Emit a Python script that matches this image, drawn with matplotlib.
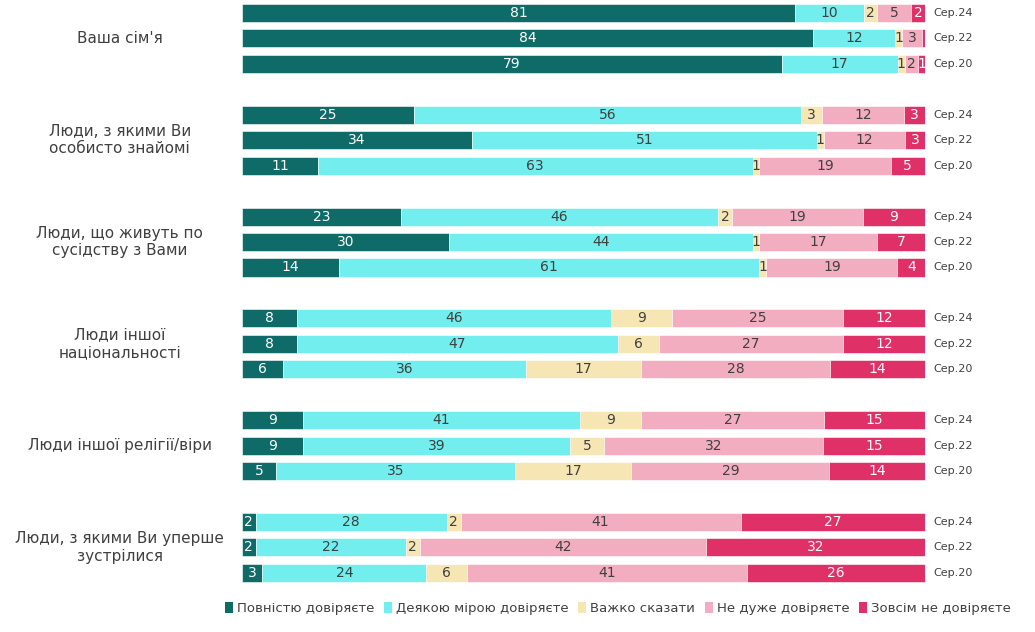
import numpy as np
import matplotlib
matplotlib.use('Agg')
import matplotlib.pyplot as plt
from matplotlib.patches import Patch

# groups and survey waves
categories = ["Ваша сім'я",
              "Люди, з якими Ви\nособисто знайомі",
              "Люди, що живуть по\nсусідству з Вами",
              "Люди іншої\nнаціональності",
              "Люди іншої релігії/віри",
              "Люди, з якими Ви уперше\nзустрілися"]
waves = ["Сер.24", "Сер.22", "Сер.20"]

series_names = ["Повністю довіряєте", "Деякою мірою довіряєте", "Важко сказати",
                "Не дуже довіряєте", "Зовсім не довіряєте"]

# values per row: category by category, waves Сер.24 / Сер.22 / Сер.20
full_trust = [81, 84, 79, 25, 34, 11, 23, 30, 14, 8, 8, 6, 9, 9, 5, 2, 2, 3]
some_trust = [10, 12, 17, 56, 51, 63, 46, 44, 61, 46, 47, 36, 41, 39, 35, 28, 22, 24]
hard_to_say = [2, 1, 1, 3, 1, 1, 2, 1, 1, 9, 6, 17, 9, 5, 17, 2, 2, 6]
not_much = [5, 3, 2, 12, 12, 19, 19, 17, 19, 25, 27, 28, 27, 32, 29, 41, 42, 41]
no_trust = [2, 0.4, 1, 3, 3, 5, 9, 7, 4, 12, 12, 14, 15, 15, 14, 27, 32, 26]

colors = ['#0f6b68', '#72eeee', '#f5e6b4', '#f2adc0', '#e03068']
text_colors = ['white', '#404040', '#404040', '#404040', 'white']

plt.rcParams['font.family'] = ['DejaVu Sans']

fig = plt.figure(figsize=(10.35, 6.32), dpi=100)
ax = fig.add_axes([242 / 1035, 0.0734, 683 / 1035, 0.9262])

data = np.array([full_trust, some_trust, hard_to_say, not_much, no_trust], dtype=float)
totals = data.sum(axis=0)
widths = data / totals * 100

# y positions: 3 bars per group, one empty slot between groups
ypos = np.array([g * 4 + i for g in range(len(categories)) for i in range(len(waves))])

left = np.zeros(len(ypos))
for k in range(len(series_names)):
    ax.barh(ypos, widths[k], left=left, height=0.71, color=colors[k],
            edgecolor='white', linewidth=0.4)
    for j in range(len(ypos)):
        v = data[k, j]
        if v >= 0.5:
            ax.text(left[j] + widths[k, j] / 2, ypos[j], '{:.0f}'.format(v),
                    ha='center', va='center', fontsize=10, color=text_colors[k])
    left += widths[k]

# wave labels on the right
for j, y in enumerate(ypos):
    ax.text(101.2, y, waves[j % 3], ha='left', va='center', fontsize=8, color='#404040')

# group labels on the left
for g, cat in enumerate(categories):
    ax.text(-17.9, g * 4 + 1, cat, ha='center', va='center', fontsize=11,
            color='#404040', transform=ax.transData)

ax.set_xlim(0, 100)
ax.set_ylim(22.5, -0.5)
ax.axis('off')

handles = [Patch(facecolor=c, edgecolor='none') for c in colors]
fig.legend(handles, series_names, loc='center', bbox_to_anchor=(0.597, 0.037), ncol=5,
           frameon=False, fontsize=9.5, handlelength=0.6, handleheight=0.8,
           handletextpad=0.3, columnspacing=0.75, labelcolor='#404040')

plt.savefig('out.png', dpi=100)
